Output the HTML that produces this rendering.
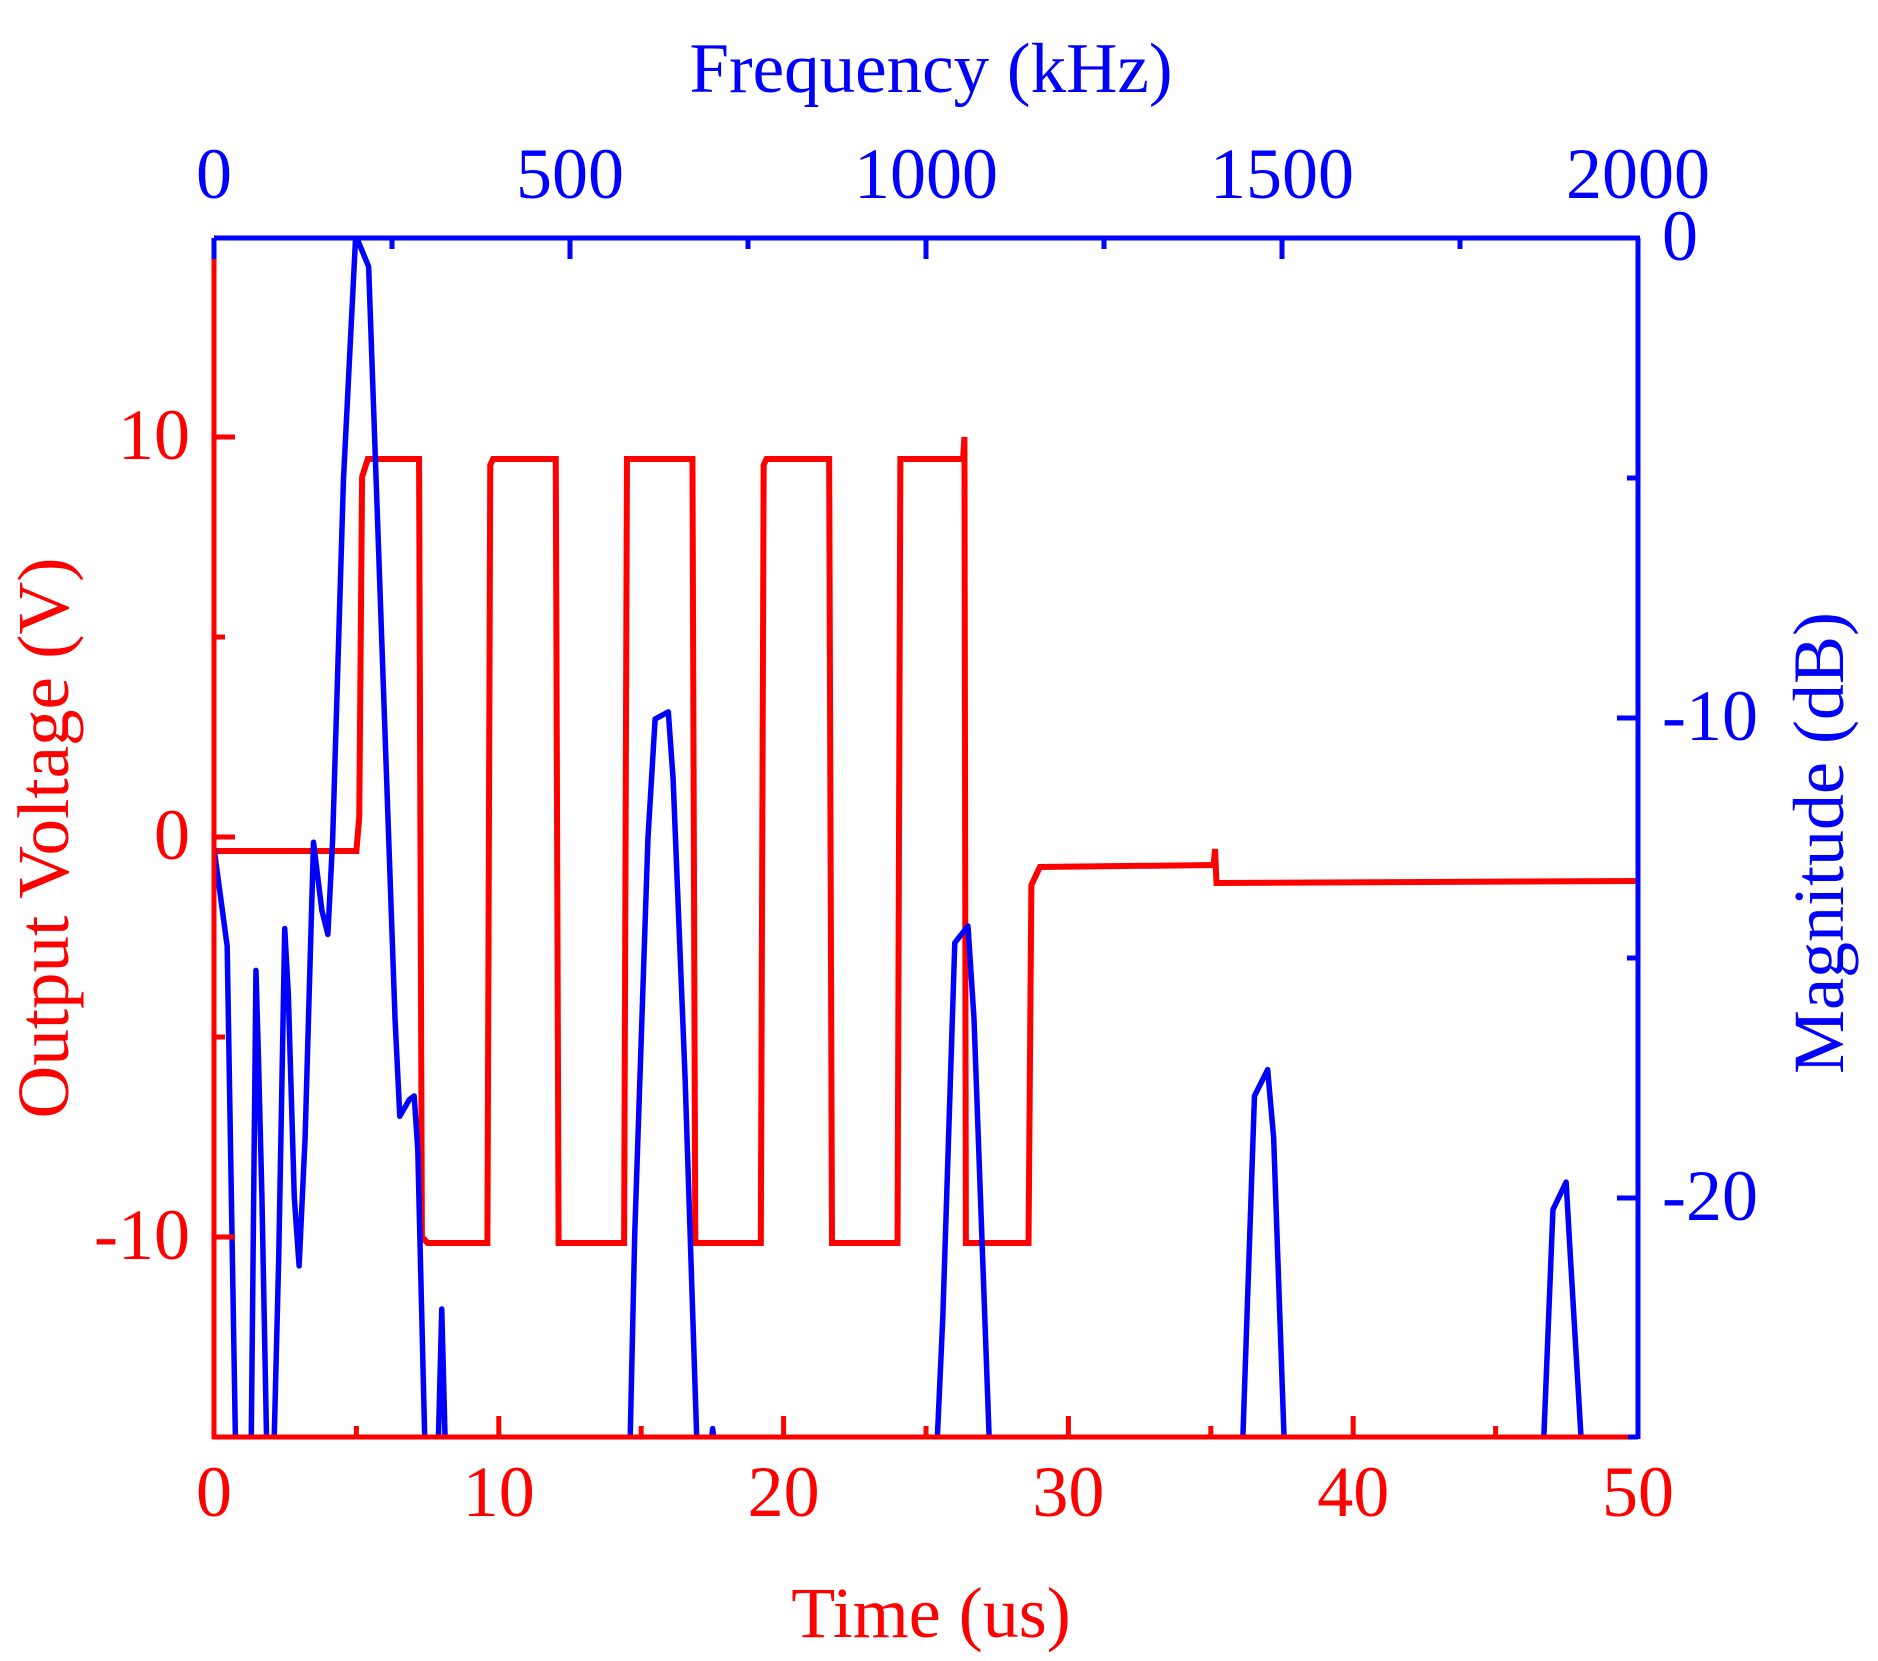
<!DOCTYPE html>
<html><head><meta charset="utf-8"><style>
html,body{margin:0;padding:0;background:#fff;}
svg{display:block;}
text{font-family:"Liberation Serif",serif;}
</style></head><body>
<svg width="1878" height="1661" viewBox="0 0 1878 1661" xmlns="http://www.w3.org/2000/svg">
<defs><clipPath id="pc"><rect x="214" y="238" width="1424" height="1199"/></clipPath></defs>

<g clip-path="url(#pc)">
<g transform="matrix(28.48,0,0,-40,214,837)">
<path vector-effect="non-scaling-stroke" fill="none" stroke="#ff0000" stroke-width="6" stroke-linejoin="miter"
d="M0,-0.35 L5.0,-0.35 L5.1,0.5 L5.2,9.0 L5.4,9.45 L7.2,9.45 L7.3,-10.0 L7.5,-10.15 L9.6,-10.15 L9.7,9.3 L9.8,9.45 L12.0,9.45 L12.1,-10.15 L14.4,-10.15 L14.5,9.45 L16.8,9.45 L16.9,-10.15 L19.2,-10.15 L19.3,9.3 L19.4,9.45 L21.6,9.45 L21.7,-10.15 L24.0,-10.15 L24.1,9.45 L26.3,9.45 L26.35,10 L26.4,-10.15 L28.6,-10.15 L28.7,-1.2 L29.0,-0.75 L35.1,-0.7 L35.15,-0.3 L35.2,-1.15 L50,-1.1"/>
</g>
<g transform="translate(214,238) scale(1.1987,1.1966) translate(-179,-198)">
<path vector-effect="non-scaling-stroke" fill="none" stroke="#0000ff" stroke-width="5.5" stroke-linejoin="round"
d="M179,708 L186,760 L190,790 L191,850 L197,1210 L210,1210 L214,810 L216,880 L219,1000 L223,1210 L229,1210 L233,1050 L238,775 L241,830 L246,1000 L250,1057 L255,950 L262,703 L269,760 L274,780 L278,700 L287,400 L297,200 L299,200 L308,222 L316,450 L323,650 L330,850 L334,932 L342,918 L346,915 L349,960 L355,1210 L366,1210 L369,1093 L372,1210 L526,1210 L530,1030 L541,700 L547,600 L558,594 L562,650 L572,900 L582,1210 L593,1210 L595,1193 L597,1210 L782,1210 L787,1100 L797,787 L808,773 L813,850 L826,1210 L1037,1210 L1047,915 L1058,893 L1063,950 L1072,1210 L1288,1210 L1296,1010 L1307,987 L1310,1040 L1320,1210"/>
</g>
</g>

<g stroke-width="5" fill="none">
<line x1="214" y1="238" x2="1640" y2="238" stroke="#0000ff"/>
<line x1="1638" y1="238" x2="1638" y2="1439" stroke="#0000ff"/>
<line x1="214" y1="238" x2="214" y2="1439" stroke="#ff0000"/>
<line x1="212" y1="1437" x2="1630" y2="1437" stroke="#ff0000"/>
<g stroke="#ff0000">
<path d="M214,1437v-21 M498.8,1437v-21 M783.6,1437v-21 M1068.4,1437v-21 M1353.2,1437v-21 M356.4,1437v-11 M641.2,1437v-11 M926,1437v-11 M1210.8,1437v-11 M1495.6,1437v-11"/>
<path d="M214,437h21 M214,837h21 M214,1237h21 M214,637h11 M214,1037h11"/>
</g>
<g stroke="#0000ff">
<path d="M214,238v21 M570,238v21 M926,238v21 M1282,238v21 M392,238v11 M748,238v11 M1104,238v11 M1460,238v11"/>
<path d="M1638,238h-21 M1638,718h-21 M1638,1198h-21 M1638,1437h-10 M1638,478h-11 M1638,958h-11"/>
</g>
</g>

<g font-size="72" fill="#ff0000" text-anchor="middle">
<text x="214" y="1516">0</text><text x="498.8" y="1516">10</text><text x="783.6" y="1516">20</text>
<text x="1068.4" y="1516">30</text><text x="1353.2" y="1516">40</text><text x="1638" y="1516">50</text>
</g>
<g font-size="72" fill="#ff0000" text-anchor="end">
<text x="190" y="459">10</text><text x="190" y="859">0</text><text x="190" y="1259">-10</text>
</g>
<g font-size="72" fill="#0000ff" text-anchor="middle">
<text x="214" y="198">0</text><text x="570" y="198">500</text><text x="926" y="198">1000</text>
<text x="1282" y="198">1500</text><text x="1638" y="198">2000</text>
</g>
<g font-size="72" fill="#0000ff" text-anchor="start">
<text x="1662" y="260">0</text><text x="1662" y="740">-10</text><text x="1662" y="1220">-20</text>
</g>

<text x="931" y="1637" font-size="72" fill="#ff0000" text-anchor="middle">Time (us)</text>
<text x="931" y="92" font-size="71" fill="#0000ff" text-anchor="middle">Frequency (kHz)</text>
<text transform="translate(68,838) rotate(-90)" font-size="73" fill="#ff0000" text-anchor="middle">Output Voltage (V)</text>
<text transform="translate(1843,843) rotate(-90)" font-size="72" fill="#0000ff" text-anchor="middle">Magnitude (dB)</text>
</svg>
</body></html>
